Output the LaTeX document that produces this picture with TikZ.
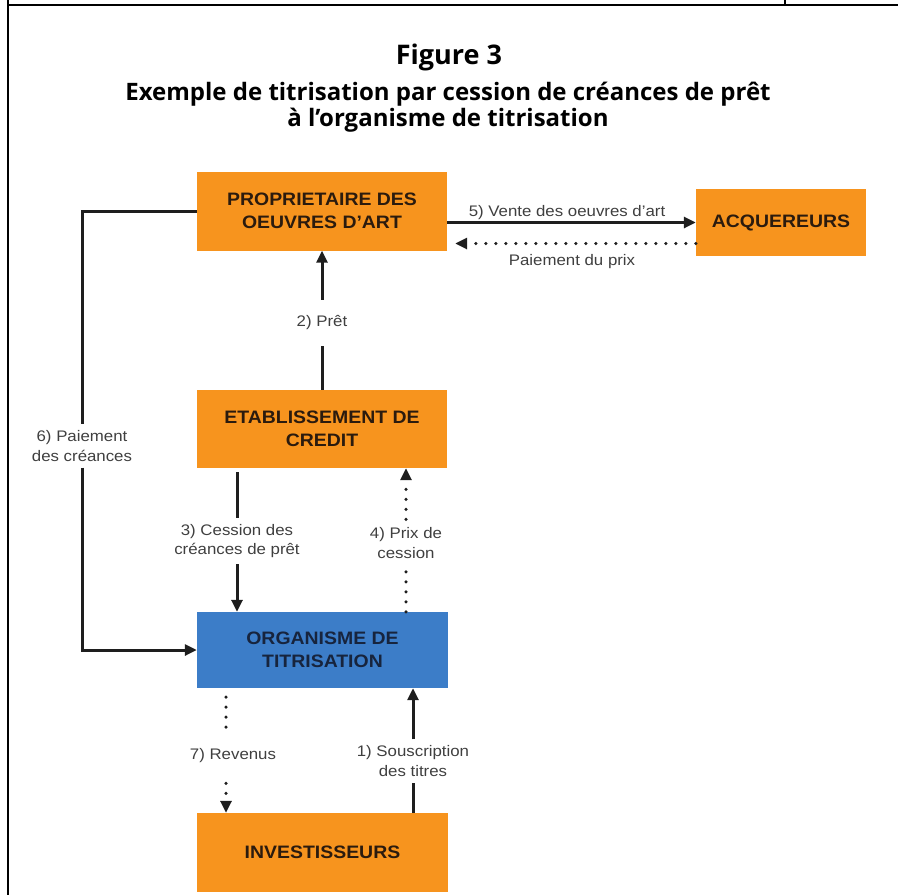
\documentclass[tikz,border=0pt]{standalone}
\usepackage{fontspec}
\usepackage{xcolor}
\usepackage{tikz}
\usetikzlibrary{positioning, arrows.meta}
\newfontfamily\boxfont{Liberation Sans}[FakeStretch=1.08]
\newfontfamily\lblfont{Liberation Sans}[FakeStretch=1.1]
\newfontfamily\ttlfont{Open Sans}
\definecolor{tOrange}{HTML}{F7941E}
\definecolor{tBlue}{HTML}{3C7DC8}
\definecolor{nInk}{HTML}{2B1B0E}
\definecolor{nNavy}{HTML}{17243D}
\definecolor{nLine}{HTML}{1E1E1E}
\definecolor{nGray}{HTML}{3F3F3F}

\begin{document}
\begin{tikzpicture}[x=1pt, y=-1pt,
  box/.style={fill=tOrange, text=nInk, inner sep=0pt, align=center,
    font=\boxfont\fontsize{18}{22.5}\selectfont\bfseries},
  lbl/.style={text=nGray, inner xsep=0pt, align=center,
    font=\lblfont\fontsize{15.3}{19.5}\selectfont},
  lin/.style={line width=3pt, nLine},
  arr/.style={lin, -{Triangle[length=12pt,width=11pt]}},
  dots/.style={line width=3.5pt, nLine, line cap=round, dash pattern=on 0pt off 10pt},
  dotarr/.style={dots, -{Triangle[length=12pt,width=11pt]}}]
  \useasboundingbox (0,0) rectangle (898,895);
  % page frame
  \draw[line width=2pt] (8,895) -- (8,0);
  \draw[line width=2pt] (8,5) -- (898,5);
  \draw[line width=2pt] (785,0) -- (785,5);
  % title
  \node[font=\ttlfont\fontsize{27}{32}\selectfont\bfseries, anchor=base] (ttl) at (449,64) {Figure 3};
  \node[font=\ttlfont\fontsize{24}{26}\selectfont\bfseries, anchor=base] (sub1) at (448,100)
    {Exemple de titrisation par cession de créances de prêt};
  \node[font=\ttlfont\fontsize{24}{26}\selectfont\bfseries, anchor=base] (sub2) at (448,126)
    {à l’organisme de titrisation};
  % boxes
  \node[box, minimum width=250pt, minimum height=79pt] (prop) at (322,211) {PROPRIETAIRE DES\\OEUVRES D’ART};
  \node[box, minimum width=170pt, minimum height=67pt] (acq) at (781,222.5) {ACQUEREURS};
  \node[box, minimum width=250pt, minimum height=78pt] (etab) at (322,429) {ETABLISSEMENT DE\\CREDIT};
  \node[box, fill=tBlue, text=nNavy, minimum width=251pt, minimum height=76pt] (org) at (322.5,650) {ORGANISME DE\\TITRISATION};
  \node[box, minimum width=251pt, minimum height=79pt] (inv) at (322.5,852.5) {INVESTISSEURS};
  % labels
  \node[lbl, inner ysep=16pt] (l2) at (322,323) {2) Prêt};
  \node[lbl, inner ysep=6pt] (l3) at (237,541) {3) Cession des\\créances de prêt};
  \node[lbl, inner ysep=8pt] (l4) at (406,543) {4) Prix de\\cession};
  \node[lbl, inner ysep=6pt] (l6) at (82,446) {6) Paiement\\des créances};
  \node[lbl, inner ysep=20pt] (l7) at (233,756) {7) Revenus};
  \node[lbl, inner ysep=6pt] (l1) at (413,761) {1) Souscription\\des titres};
  \node[lbl, anchor=base] (l5) at (567,216) {5) Vente des oeuvres d’art};
  \node[lbl, anchor=base] (lp) at (572,265) {Paiement du prix};
  % helper abscissae
  \coordinate (x7) at (226,0);
  % connectors
  \draw[lin] (etab.south -| l3) ++(0,4) -- (l3.north);
  \draw[lin] (etab.north) -- (l2.south);
  \draw[arr] (l2.north) -- (prop.south);
  \draw[arr] (l3.south) -- (org.north -| l3);
  \draw[dots] (org.north -| l4) -- (l4.south);
  \draw[dotarr] (l4.north) -- (etab.south -| l4);
  \draw[lin] (inv.north -| l1) -- (l1.south);
  \draw[arr] (l1.north) -- (org.south -| l1);
  \draw[dots] (org.south -| x7) ++(0,9) -- (l7.north -| x7);
  \draw[dotarr] (l7.south -| x7) -- (inv.north -| x7);
  \draw[lin] (prop.west) -| (l6.north);
  \draw[arr] (l6.south) |- (org.west);
  \draw[arr] (prop.east |- acq.west) -- (acq.west);
  \draw[dotarr, shorten >=8pt] ([yshift=-21pt]acq.west) -- ([yshift=-21pt]acq.west -| prop.east);
\end{tikzpicture}
\end{document}
